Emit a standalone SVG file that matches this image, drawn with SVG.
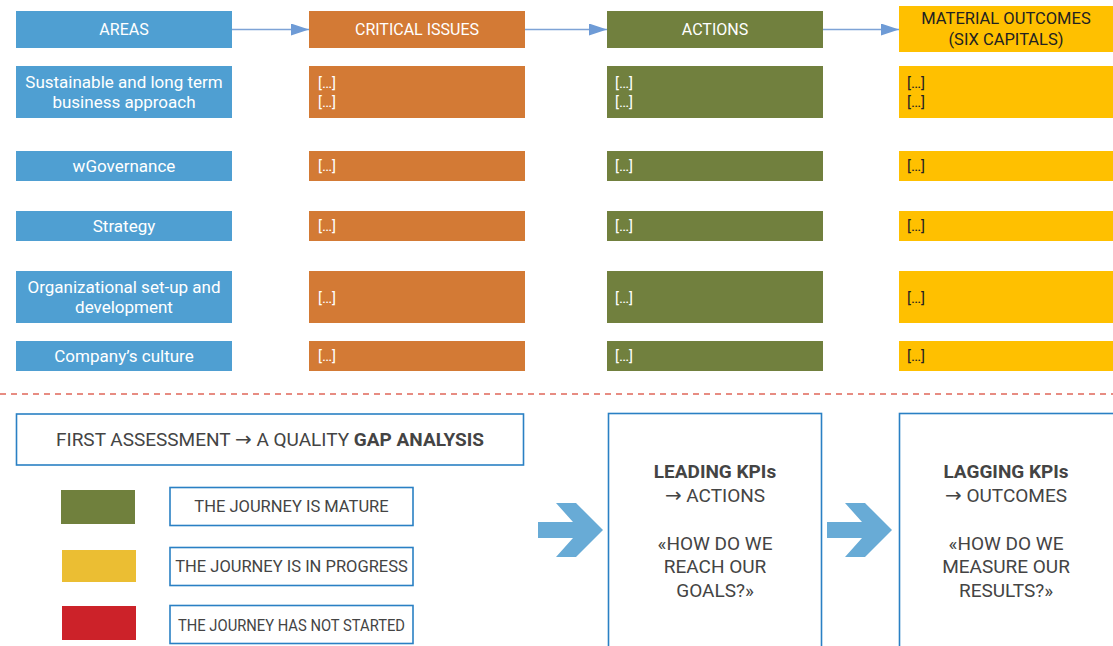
<svg xmlns="http://www.w3.org/2000/svg" width="1113" height="646" viewBox="0 0 1113 646">
<style>
text{font-family:Roboto,"Liberation Sans",sans-serif}
.b{fill:#4F9FD2}.o{fill:#D37A35}.g{fill:#71803E}.y{fill:#FFC000}
.w{fill:#FFFFFF;font-size:15px}
.wc{fill:#FFFFFF;font-size:16px;text-anchor:middle}
.wa{fill:#FFFFFF;font-size:17px;text-anchor:middle}
.d{fill:#222;font-size:15px}
.dc{fill:#222;font-size:16.5px;text-anchor:middle}
.bx{fill:#FFFFFF;stroke:#2A80C4;stroke-width:1.6}
.t{fill:#444;font-size:19px;text-anchor:middle}
.lt{fill:#444;font-size:16.5px;text-anchor:middle}
.ar{font-family:"DejaVu Sans",sans-serif;font-size:1.05em}
.con{stroke:#7EA3D6;stroke-width:1.6;fill:none}
.big{fill:#68ABD6}
</style>
<defs>
<marker id="ahs" markerWidth="18" markerHeight="12" refX="18" refY="6" orient="auto" markerUnits="userSpaceOnUse" viewBox="0 0 18 12">
<path d="M0,0 L18,6 L0,12 Z" fill="#6E9BD6"/>
</marker>
</defs>
<g id="connectors">
<line class="con" x1="232" y1="29.5" x2="309" y2="29.5" marker-end="url(#ahs)"/>
<line class="con" x1="525" y1="29.5" x2="607" y2="29.5" marker-end="url(#ahs)"/>
<line class="con" x1="823" y1="29.5" x2="899" y2="29.5" marker-end="url(#ahs)"/>
<line x1="0" y1="394" x2="1113" y2="394" stroke="#E0675A" stroke-width="1.6" stroke-dasharray="6,5"/>
<polygon class="big" points="538,522 573,522 556,503 576,503 603,530 576,557 556,557 573,538 538,538"/>
<polygon class="big" points="827,522 862,522 845,503 865,503 892,530 865,557 845,557 862,538 827,538"/>
</g>
<g id="h-areas"><rect class="b" x="16" y="11" width="216" height="37"/><text class="wc" x="124" y="35">AREAS</text></g>
<g id="h-critical"><rect class="o" x="309" y="11" width="216" height="37"/><text class="wc" x="417" y="35">CRITICAL ISSUES</text></g>
<g id="h-actions"><rect class="g" x="607" y="11" width="216" height="37"/><text class="wc" x="715" y="35">ACTIONS</text></g>
<g id="h-outcomes"><rect class="y" x="899" y="6" width="214" height="46"/><text class="dc" x="1006" y="24">MATERIAL OUTCOMES</text><text class="dc" x="1006" y="45">(SIX CAPITALS)</text></g>

<g id="r1-area"><rect class="b" x="16" y="66" width="216" height="52"/><text class="wa" x="124" y="88">Sustainable and long term</text><text class="wa" x="124" y="108">business approach</text></g>
<g id="r1-crit"><rect class="o" x="309" y="66" width="216" height="52"/><text class="w" x="318" y="88">[…]</text><text class="w" x="318" y="107">[…]</text></g>
<g id="r1-act"><rect class="g" x="607" y="66" width="216" height="52"/><text class="w" x="615" y="88">[…]</text><text class="w" x="615" y="107">[…]</text></g>
<g id="r1-out"><rect class="y" x="899" y="66" width="214" height="52"/><text class="d" x="907" y="88">[…]</text><text class="d" x="907" y="107">[…]</text></g>

<g id="r2-area"><rect class="b" x="16" y="151" width="216" height="30"/><text class="wa" x="124" y="172">wGovernance</text></g>
<g id="r2-crit"><rect class="o" x="309" y="151" width="216" height="30"/><text class="w" x="318" y="171">[…]</text></g>
<g id="r2-act"><rect class="g" x="607" y="151" width="216" height="30"/><text class="w" x="615" y="171">[…]</text></g>
<g id="r2-out"><rect class="y" x="899" y="151" width="214" height="30"/><text class="d" x="907" y="171">[…]</text></g>

<g id="r3-area"><rect class="b" x="16" y="211" width="216" height="30"/><text class="wa" x="124" y="232">Strategy</text></g>
<g id="r3-crit"><rect class="o" x="309" y="211" width="216" height="30"/><text class="w" x="318" y="231">[…]</text></g>
<g id="r3-act"><rect class="g" x="607" y="211" width="216" height="30"/><text class="w" x="615" y="231">[…]</text></g>
<g id="r3-out"><rect class="y" x="899" y="211" width="214" height="30"/><text class="d" x="907" y="231">[…]</text></g>

<g id="r4-area"><rect class="b" x="16" y="271" width="216" height="52"/><text class="wa" x="124" y="293">Organizational set-up and</text><text class="wa" x="124" y="313">development</text></g>
<g id="r4-crit"><rect class="o" x="309" y="271" width="216" height="52"/><text class="w" x="318" y="303">[…]</text></g>
<g id="r4-act"><rect class="g" x="607" y="271" width="216" height="52"/><text class="w" x="615" y="303">[…]</text></g>
<g id="r4-out"><rect class="y" x="899" y="271" width="214" height="52"/><text class="d" x="907" y="303">[…]</text></g>

<g id="r5-area"><rect class="b" x="16" y="341" width="216" height="30"/><text class="wa" x="124" y="362">Company’s culture</text></g>
<g id="r5-crit"><rect class="o" x="309" y="341" width="216" height="30"/><text class="w" x="318" y="361">[…]</text></g>
<g id="r5-act"><rect class="g" x="607" y="341" width="216" height="30"/><text class="w" x="615" y="361">[…]</text></g>
<g id="r5-out"><rect class="y" x="899" y="341" width="214" height="30"/><text class="d" x="907" y="361">[…]</text></g>

<g id="assessment"><rect class="bx" x="16.5" y="414" width="507" height="51"/><text class="t" x="270" y="446" font-size="18">FIRST ASSESSMENT <tspan class="ar">→</tspan> A QUALITY <tspan font-weight="bold">GAP ANALYSIS</tspan></text></g>

<g id="legend-mature"><rect x="61" y="490" width="74" height="34" fill="#70803D"/><rect class="bx" x="170" y="487.5" width="243" height="38"/><text class="lt" x="291.5" y="512">THE JOURNEY IS MATURE</text></g>
<g id="legend-progress"><rect x="62" y="550" width="74" height="32" fill="#EBBE33"/><rect class="bx" x="170" y="547.5" width="243" height="38"/><text class="lt" x="291.5" y="572">THE JOURNEY IS IN PROGRESS</text></g>
<g id="legend-notstarted"><rect x="62" y="606" width="74" height="34" fill="#CC2229"/><rect class="bx" x="170" y="605.5" width="243" height="38"/><text class="lt" x="291.5" y="631" textLength="227" lengthAdjust="spacingAndGlyphs">THE JOURNEY HAS NOT STARTED</text></g>

<g id="leading"><rect class="bx" x="608.5" y="413.5" width="213" height="240"/>
<text class="t" x="715" y="478" font-weight="bold">LEADING KPIs</text>
<text class="t" x="715" y="502"><tspan class="ar">→</tspan> ACTIONS</text>
<text class="t" x="715" y="550">«HOW DO WE</text>
<text class="t" x="715" y="573">REACH OUR</text>
<text class="t" x="715" y="597">GOALS?»</text></g>

<g id="lagging"><rect class="bx" x="899.5" y="413.5" width="220" height="240"/>
<text class="t" x="1006" y="478" font-weight="bold">LAGGING KPIs</text>
<text class="t" x="1006" y="502"><tspan class="ar">→</tspan> OUTCOMES</text>
<text class="t" x="1006" y="550">«HOW DO WE</text>
<text class="t" x="1006" y="573">MEASURE OUR</text>
<text class="t" x="1006" y="597">RESULTS?»</text></g>
</svg>
